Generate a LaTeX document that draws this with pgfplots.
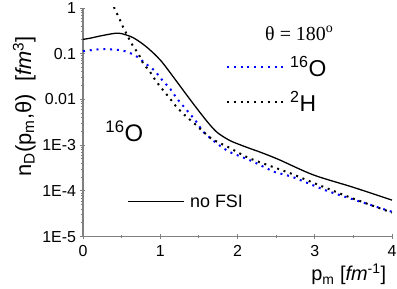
\documentclass[border=0pt]{standalone}
\usepackage{fontspec}
\setmainfont{Liberation Sans}
\newfontfamily\timesfont{Liberation Serif}
\usepackage{pgfplots}
\pgfplotsset{compat=1.18}
\pgfplotstableread{
x y
0    0.206
0.1  0.22
0.22 0.244
0.41 0.279
0.5  0.275
0.65 0.224
0.82 0.142
1.0  0.073
1.17 0.031
1.32 0.0141
1.47 0.0065
1.62 0.0031
1.73 0.00195
1.84 0.00145
1.94 0.00118
2.16 0.00085
2.29 0.00071
2.53 0.00049
2.98 0.000225
3.5  0.00012
4.0  0.000063
}\solid
\pgfplotstableread{
x y
0    0.114
0.24 0.126
0.48 0.12
0.59 0.107
0.70 0.086
0.81 0.061
0.93 0.042
1.03 0.026
1.13 0.017
1.21 0.0108
1.30 0.0071
1.41 0.0043
1.47 0.0032
1.56 0.00195
1.73 0.0011
1.90 0.00071
2.16 0.00047
2.35 0.00033
2.48 0.00026
2.72 0.0002
3.15 0.000102
3.58 0.000059
4.0  0.000035
}\oxy
\pgfplotstableread{
x y
0.40 1.05
0.47 0.59
0.52 0.38
0.64 0.155
0.72 0.098
0.78 0.061
0.86 0.042
0.94 0.026
1.03 0.0165
1.12 0.0108
1.21 0.0069
1.32 0.0045
1.45 0.0029
1.66 0.0014
1.88 0.00091
2.12 0.00055
2.35 0.00039
2.68 0.000245
3.02 0.000142
3.45 0.000073
3.93 0.000037
4.0  0.000034
}\deut
\begin{document}
\begin{tikzpicture}
\useasboundingbox (-83bp,-51.6bp) rectangle (314bp,236.7bp);
\begin{axis}[
  at={(0,0)}, anchor=south west,
  scale only axis, width=309bp, height=228.7bp,
  ymode=log, xmin=0, xmax=4, ymin=1e-5, ymax=1,
  axis x line=bottom, axis y line=left,
  axis line style={-, gray, line width=1.5pt},
  xtick={0,1,2,3,4}, minor xtick={0.5,1.5,2.5,3.5},
  ytick={1e-5,1e-4,1e-3,1e-2,1e-1,1},
  yticklabels={1E-5,1E-4,1E-3,0.01,0.1,1},
  minor ytick={2e-5,3e-5,4e-5,5e-5,6e-5,7e-5,8e-5,9e-5,
               2e-4,3e-4,4e-4,5e-4,6e-4,7e-4,8e-4,9e-4,
               2e-3,3e-3,4e-3,5e-3,6e-3,7e-3,8e-3,9e-3,
               2e-2,3e-2,4e-2,5e-2,6e-2,7e-2,8e-2,9e-2,
               0.2,0.3,0.4,0.5,0.6,0.7,0.8,0.9},
  tick align=center,
  tick style={gray, line width=1pt},
  major tick length=5bp, minor tick length=3bp,
  /pgf/number format/assume math mode=true,
  tick label style={font=\fontsize{16}{16}\selectfont},
  yticklabel style={xshift=-1bp},
  xticklabel style={yshift=-3bp},
  clip mode=individual,
]
\addplot[black, line width=1.3pt, smooth, tension=0.5] table {\solid};
\addplot[blue, line width=2bp, dash pattern=on 2bp off 4.8bp, smooth, tension=0.4] table {\oxy};
\addplot[black, line width=2bp, dash pattern=on 2bp off 4.8bp, smooth, tension=0.4] table {\deut};

\draw[blue, line width=2bp, dash pattern=on 2bp off 4.8bp] (axis description cs:0.466,0.741) -- (axis description cs:0.647,0.741);
\draw[black, line width=2bp, dash pattern=on 2bp off 4.8bp] (axis description cs:0.466,0.587) -- (axis description cs:0.647,0.587);
\draw[black, line width=1.3pt] (axis description cs:0.146,0.155) -- (axis description cs:0.327,0.155);

\node[font=\timesfont\fontsize{20}{20}\selectfont] at (axis description cs:0.70,0.89) {θ = 180\textsuperscript{o}};
\node[anchor=west, inner sep=0pt, font=\fontsize{23}{23}\selectfont] at (axis description cs:0.67,0.745) {\textsuperscript{16}O};
\node[anchor=west, inner sep=0pt, font=\fontsize{23}{23}\selectfont] at (axis description cs:0.67,0.59) {\textsuperscript{2}H};
\node[anchor=west, inner sep=0pt, font=\fontsize{24}{24}\selectfont] at (axis description cs:0.072,0.46) {\textsuperscript{16}O};
\node[anchor=west, inner sep=0pt, font=\fontsize{18}{18}\selectfont] at (axis description cs:0.346,0.155) {no FSI};

\node[rotate=90, font=\fontsize{22}{22}\selectfont] at (axis description cs:-0.19,0.57) {n\textsubscript{D}(p\textsubscript{m},θ)\ \ [\textit{fm}\textsuperscript{3}]};
\node[font=\fontsize{20}{20}\selectfont] at (axis description cs:0.86,-0.165) {p\textsubscript{m} [\textit{fm}\textsuperscript{-1}]};
\end{axis}
\end{tikzpicture}
\end{document}
